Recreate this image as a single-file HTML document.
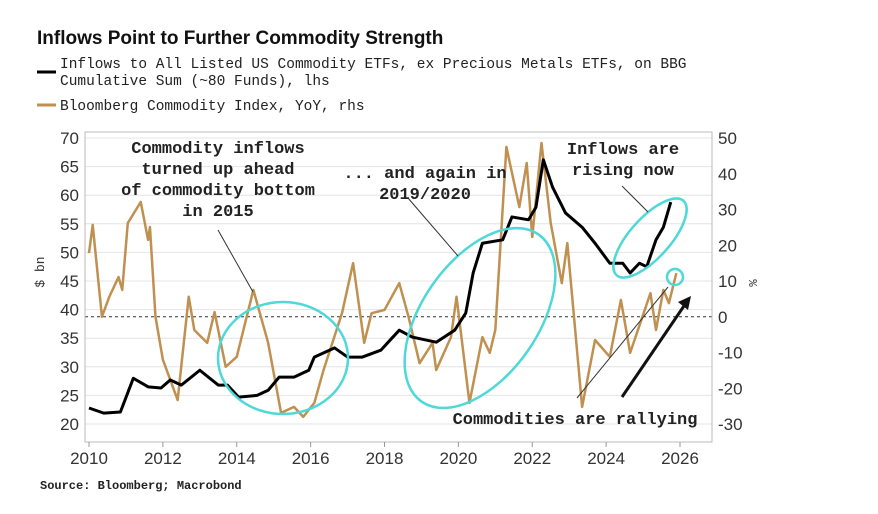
<!DOCTYPE html>
<html><head><meta charset="utf-8"><style>
body{margin:0;background:#fff;width:878px;height:509px;overflow:hidden;font-family:"Liberation Sans",sans-serif;}
svg text{font-family:"Liberation Mono",monospace;}
#axes text{font-family:"Liberation Sans Narrow","Liberation Sans",sans-serif;}
</style></head><body>
<svg width="878" height="509">
<script>
const blkX=[2010.0,2010.4,2010.85,2011.2,2011.6,2011.95,2012.2,2012.5,2013.0,2013.5,2013.75,2014.05,2014.55,2014.85,2015.15,2015.55,2015.95,2016.1,2016.65,2017.0,2017.4,2017.9,2018.4,2018.75,2019.4,2019.9,2020.2,2020.4,2020.65,2021.2,2021.45,2021.9,2022.1,2022.3,2022.55,2022.9,2023.35,2023.7,2024.1,2024.45,2024.65,2024.9,2025.1,2025.35,2025.55,2025.75];
const blkY=[22.8,21.9,22.1,28,26.5,26.3,27.7,26.8,29.4,26.8,26.8,24.7,25,25.9,28.2,28.2,29.4,31.7,33.3,31.7,31.7,32.9,36.4,35.2,34.3,36.4,39.4,46.4,51.6,52.2,56.2,55.7,57.9,66.2,61.4,56.9,54.4,51.6,48.1,48.1,46.4,48.1,47.5,52.2,54.4,58.8];
const gldX=[2010.0,2010.1,2010.35,2010.55,2010.8,2010.9,2011.05,2011.4,2011.6,2011.65,2011.8,2012.0,2012.4,2012.7,2012.85,2013.2,2013.4,2013.7,2014.0,2014.45,2014.85,2015.2,2015.55,2015.8,2016.1,2016.35,2016.85,2017.15,2017.45,2017.65,2018.0,2018.4,2018.65,2018.95,2019.3,2019.4,2019.8,2019.95,2020.3,2020.65,2020.85,2021.0,2021.3,2021.65,2021.85,2022.0,2022.25,2022.5,2022.8,2022.95,2023.35,2023.7,2024.1,2024.4,2024.65,2025.2,2025.35,2025.55,2025.7,2025.9];
const gldY=[17.8,25.7,0,5.6,11.1,7.5,26.2,32.1,21.5,25.1,0,-12,-23.3,5.6,-3.7,-7.3,1.3,-14,-11.2,7.5,-7.3,-26.9,-25.2,-28,-24.1,-14.9,1,15,-7.3,1,1.9,9.4,0,-13,-7.3,-14.9,-5.7,5.6,-24.1,-5.7,-10.1,-3.7,47.5,30.7,43,22.3,48.6,26.2,9.4,20.6,-25.2,-6.5,-11.2,4.7,-10.1,6.6,-3.7,7.5,3.8,12.2];
const leftTicks=[70,65,60,55,50,45,40,35,30,25,20];
const rightTicks=[50,40,30,20,10,0,-10,-20,-30];
const xTicks=[2010,2012,2014,2016,2018,2020,2022,2024,2026];
</script>
<text x="37" y="44" style="font-family:'Liberation Sans',sans-serif;font-weight:bold;font-size:19px" fill="#111">Inflows Point to Further Commodity Strength</text>
<g>
<line x1="37" x2="56" y1="72" y2="72" stroke="#000" stroke-width="3"/>
<text x="60" y="68" font-size="14.5" fill="#222">Inflows to All Listed US Commodity ETFs, ex Precious Metals ETFs, on BBG</text>
<text x="60" y="85" font-size="14.5" fill="#222">Cumulative Sum (~80 Funds), lhs</text>
<line x1="37" x2="56" y1="105" y2="105" stroke="#c09050" stroke-width="3"/>
<text x="60" y="110" font-size="14.5" fill="#222">Bloomberg Commodity Index, YoY, rhs</text>
</g>
<g id="grid"></g>
<rect x="85" y="132" width="627" height="310" fill="none" stroke="#bbb"/>
<g id="axes" font-size="17" fill="#333"></g>
<text transform="translate(44,272) rotate(-90)" font-size="13" text-anchor="middle" fill="#333">$ bn</text>
<text transform="translate(757,283) rotate(-90)" font-size="12" text-anchor="middle" fill="#333">%</text>
<g id="series"></g>
<g fill="none" stroke="#4fd8d8" stroke-width="2.5">
<ellipse cx="283" cy="358" rx="65" ry="56"/>
<ellipse cx="480" cy="318" rx="58" ry="102" transform="rotate(35 480 318)"/>
<ellipse cx="650" cy="238" rx="20" ry="50" transform="rotate(42 650 238)"/>
<circle cx="675" cy="277" r="8"/>
</g>
<g stroke="#333" stroke-width="1">
<line x1="218" y1="230" x2="253" y2="292"/>
<line x1="408" y1="198" x2="458" y2="256"/>
<line x1="622" y1="186" x2="648" y2="212"/>
<line x1="577" y1="398" x2="668" y2="287"/>
</g>
<line x1="622" y1="397" x2="686" y2="303" stroke="#111" stroke-width="3"/>
<polygon points="691,296 678,302 688,310" fill="#111"/>
<g font-size="17" fill="#222" text-anchor="middle" style="font-weight:bold">
<text x="218" y="153">Commodity inflows</text>
<text x="218" y="174">turned up ahead</text>
<text x="218" y="195">of commodity bottom</text>
<text x="218" y="216">in 2015</text>
<text x="425" y="178">... and again in</text>
<text x="425" y="199">2019/2020</text>
<text x="623" y="154">Inflows are</text>
<text x="623" y="175">rising now</text>
<text x="575" y="424">Commodities are rallying</text>
</g>
<text x="40" y="489" style="font-weight:bold" font-size="12" fill="#222">Source: Bloomberg; Macrobond</text>
<script>
const NS='http://www.w3.org/2000/svg';
const X0=85,X1=712,yT=132,yB=442;
function xs(t){return 89+(t-2010)*(680-89)/16;}
function yl(v){return 138+(70-v)*(424-138)/50;}
function yr(v){return 138+(50-v)*(424-138)/80;}
const grid=document.getElementById('grid'),axes=document.getElementById('axes'),ser=document.getElementById('series');
function mk(tag,at,parent){const e=document.createElementNS(NS,tag);for(const k in at)e.setAttribute(k,at[k]);parent.appendChild(e);return e;}
leftTicks.forEach(v=>{
 const l=mk('line',{x1:X0,x2:X1,y1:yl(v),y2:yl(v),stroke:'#e4e4e4'},grid);
 
 
 const t=mk('text',{x:79,y:yl(v)+6,'text-anchor':'end'},axes);t.textContent=v;
 
 
});
rightTicks.forEach(v=>{
 const t=mk('text',{x:718,y:yr(v)+6},axes);t.textContent=v;
 
 
});
xTicks.forEach(v=>{
 mk('line',{x1:xs(v),x2:xs(v),y1:yB,y2:yB+5,stroke:'#999'},axes);
 const t=mk('text',{x:xs(v),y:464,'text-anchor':'middle'},axes);t.textContent=v;
 
 
});
const z=mk('line',{x1:X0,x2:X1,y1:yr(0),y2:yr(0),stroke:'#333','stroke-dasharray':'3,3'},grid);


const g=mk('polyline',{points:gldX.map((t,i)=>xs(t)+','+yr(gldY[i])).join(' '),fill:'none',stroke:'#c09050','stroke-width':2.5,'stroke-linejoin':'round'},ser);


const b=mk('polyline',{points:blkX.map((t,i)=>xs(t)+','+yl(blkY[i])).join(' '),fill:'none',stroke:'#000','stroke-width':3,'stroke-linejoin':'round'},ser);


</script>
</svg>
</body></html>
